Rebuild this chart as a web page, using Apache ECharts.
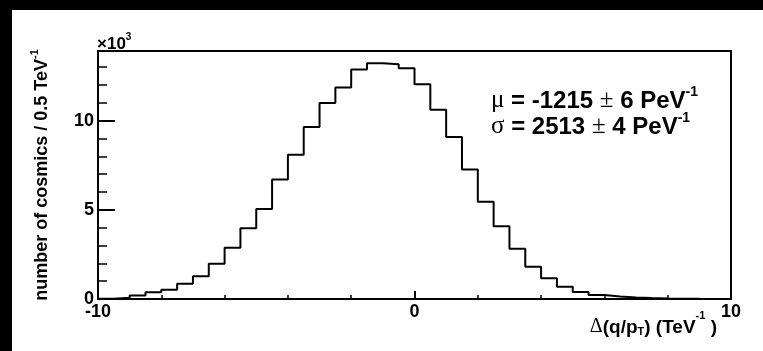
<!DOCTYPE html>
<html>
<head>
<meta charset="utf-8">
<script src="https://cdn.jsdelivr.net/npm/echarts@6/dist/echarts.min.js"></script>
<style>
  html, body { margin: 0; padding: 0; background: #fff; }
  #chart { width: 763px; height: 351px; }
</style>
</head>
<body>
<div id="chart"></div>
<script>
// histogram bins: lower edges (TeV^-1), 0.5 wide, last edge closes the range
var binEdges = [-10, -9.5, -9, -8.5, -8, -7.5, -7, -6.5, -6, -5.5,
                -5, -4.5, -4, -3.5, -3, -2.5, -2, -1.5, -1, -0.5,
                0, 0.5, 1, 1.5, 2, 2.5, 3, 3.5, 4, 4.5,
                5, 5.5, 6, 6.5, 7, 7.5, 8, 8.5, 9, 9.5, 10];
var counts = [20, 75, 200, 380, 520, 860, 1280, 1980, 2870, 3970,
              5050, 6700, 8080, 9640, 10990, 11850, 12860, 13220, 13160, 12930,
              12030, 10610, 9080, 7260, 5450, 4080, 2820, 1810, 1170, 680,
              390, 230, 145, 90, 50, 30, 15, 8, 4, 2];
var xTicks = [-10, 0, 10];
var yTicks = [0, 5, 10];   // in units of 10^3
var fitMean = ['-1215', '6'];
var fitSigma = ['2513', '4'];

var sans = 'Liberation Sans';
var serif = 'Liberation Serif';

function richStyles(size) {
  return {
    b: { fontFamily: sans, fontWeight: 'bold', fontSize: size, color: '#000', lineHeight: size + 4, verticalAlign: 'bottom' },
    g: { fontFamily: serif, fontWeight: 'normal', fontSize: size + 1, color: '#000', lineHeight: size + 4, verticalAlign: 'bottom' },
    sup: { fontFamily: sans, fontWeight: 'bold', fontSize: Math.round(size * 0.6), color: '#000', lineHeight: size + 4, verticalAlign: 'top' },
    sub: { fontFamily: sans, fontWeight: 'bold', fontSize: Math.round(size * 0.6), color: '#000', lineHeight: size + 8, verticalAlign: 'bottom' }
  };
}

// step outline: one point per bin edge, the last repeats the last bin
var histData = [];
for (var i = 0; i < counts.length; i++) {
  histData.push([binEdges[i], counts[i]]);
}
histData.push([binEdges[binEdges.length - 1], counts[counts.length - 1]]);

var myChart = echarts.init(document.getElementById('chart'));
var options = {};
options.backgroundColor = '#fff';
options.animation = false;
options.grid = {
  left: 98, top: 51, right: 32, bottom: 52,
  show: true, borderColor: '#000', borderWidth: 2, backgroundColor: '#fff'
};
options.xAxis = {
  type: 'value',
  min: xTicks[0], max: xTicks[xTicks.length - 1], interval: 10,
  axisLine: { show: true, onZero: false, lineStyle: { color: '#000', width: 2 } },
  axisTick: { show: true, inside: true, length: 8, lineStyle: { color: '#000', width: 2 } },
  minorTick: { show: true, splitNumber: 5, length: 4, lineStyle: { color: '#000', width: 1.5 } },
  splitLine: { show: false },
  axisLabel: {
    margin: 4, fontFamily: sans, fontWeight: 'bold', fontSize: 18, color: '#000',
    showMinLabel: true, showMaxLabel: true
  }
};
options.yAxis = [{
  type: 'value',
  min: 0, max: 13900, interval: 1000,
  axisLine: { show: true, onZero: false, lineStyle: { color: '#000', width: 2 } },
  axisTick: { show: true, inside: true, length: 9, lineStyle: { color: '#000', width: 1.5 } },
  splitLine: { show: false },
  axisLabel: {
    margin: 4, fontFamily: sans, fontWeight: 'bold', fontSize: 18, color: '#000',
    showMaxLabel: false,
    formatter: function (v) {
      var k = v / 1000;
      return yTicks.indexOf(k) >= 0 ? String(k) : '';
    }
  },
  name: '{b|number of cosmics / 0.5 TeV}{sup|-1}',
  nameLocation: 'middle',
  nameRotate: 90,
  nameGap: 47,
  nameTextStyle: { rich: richStyles(18) }
}, {
  type: 'value',
  min: 0, max: 13900, interval: 5000,
  position: 'left',
  axisLine: { show: true, onZero: false, lineStyle: { color: '#000', width: 2 } },
  axisTick: { show: true, inside: true, length: 17, lineStyle: { color: '#000', width: 2 } },
  splitLine: { show: false },
  axisLabel: { show: false }
}];
options.series = [{
  type: 'line',
  step: 'end',
  data: histData,
  yAxisIndex: 0,
  symbol: 'none',
  lineStyle: { color: '#000', width: 2 },
  z: 3
}];
options.graphic = [
  { type: 'rect', shape: { x: 0, y: 0, width: 763, height: 10 }, style: { fill: '#000' } },
  { type: 'rect', shape: { x: 0, y: 0, width: 12, height: 351 }, style: { fill: '#000' } },
  {
    type: 'text', left: 97, top: 32,
    style: { text: '{b|×10}{sup|3}', rich: richStyles(17) }
  },
  {
    type: 'text', left: 491, top: 85,
    style: {
      text: '{g|μ}{b| = ' + fitMean[0] + ' }{g|±}{b| ' + fitMean[1] + ' PeV}{sup|-1}',
      rich: richStyles(24)
    }
  },
  {
    type: 'text', left: 491, top: 111,
    style: {
      text: '{g|σ}{b| = ' + fitSigma[0] + ' }{g|±}{b| ' + fitSigma[1] + ' PeV}{sup|-1}',
      rich: richStyles(24)
    }
  },
  {
    type: 'text', right: 46, top: 310,
    style: {
      text: '{g|Δ}{b|(q/p}{sub|T}{b|) (TeV}{sup|-1}{b| )}',
      rich: richStyles(19)
    }
  }
];
myChart.setOption(options);
</script>
</body>
</html>
